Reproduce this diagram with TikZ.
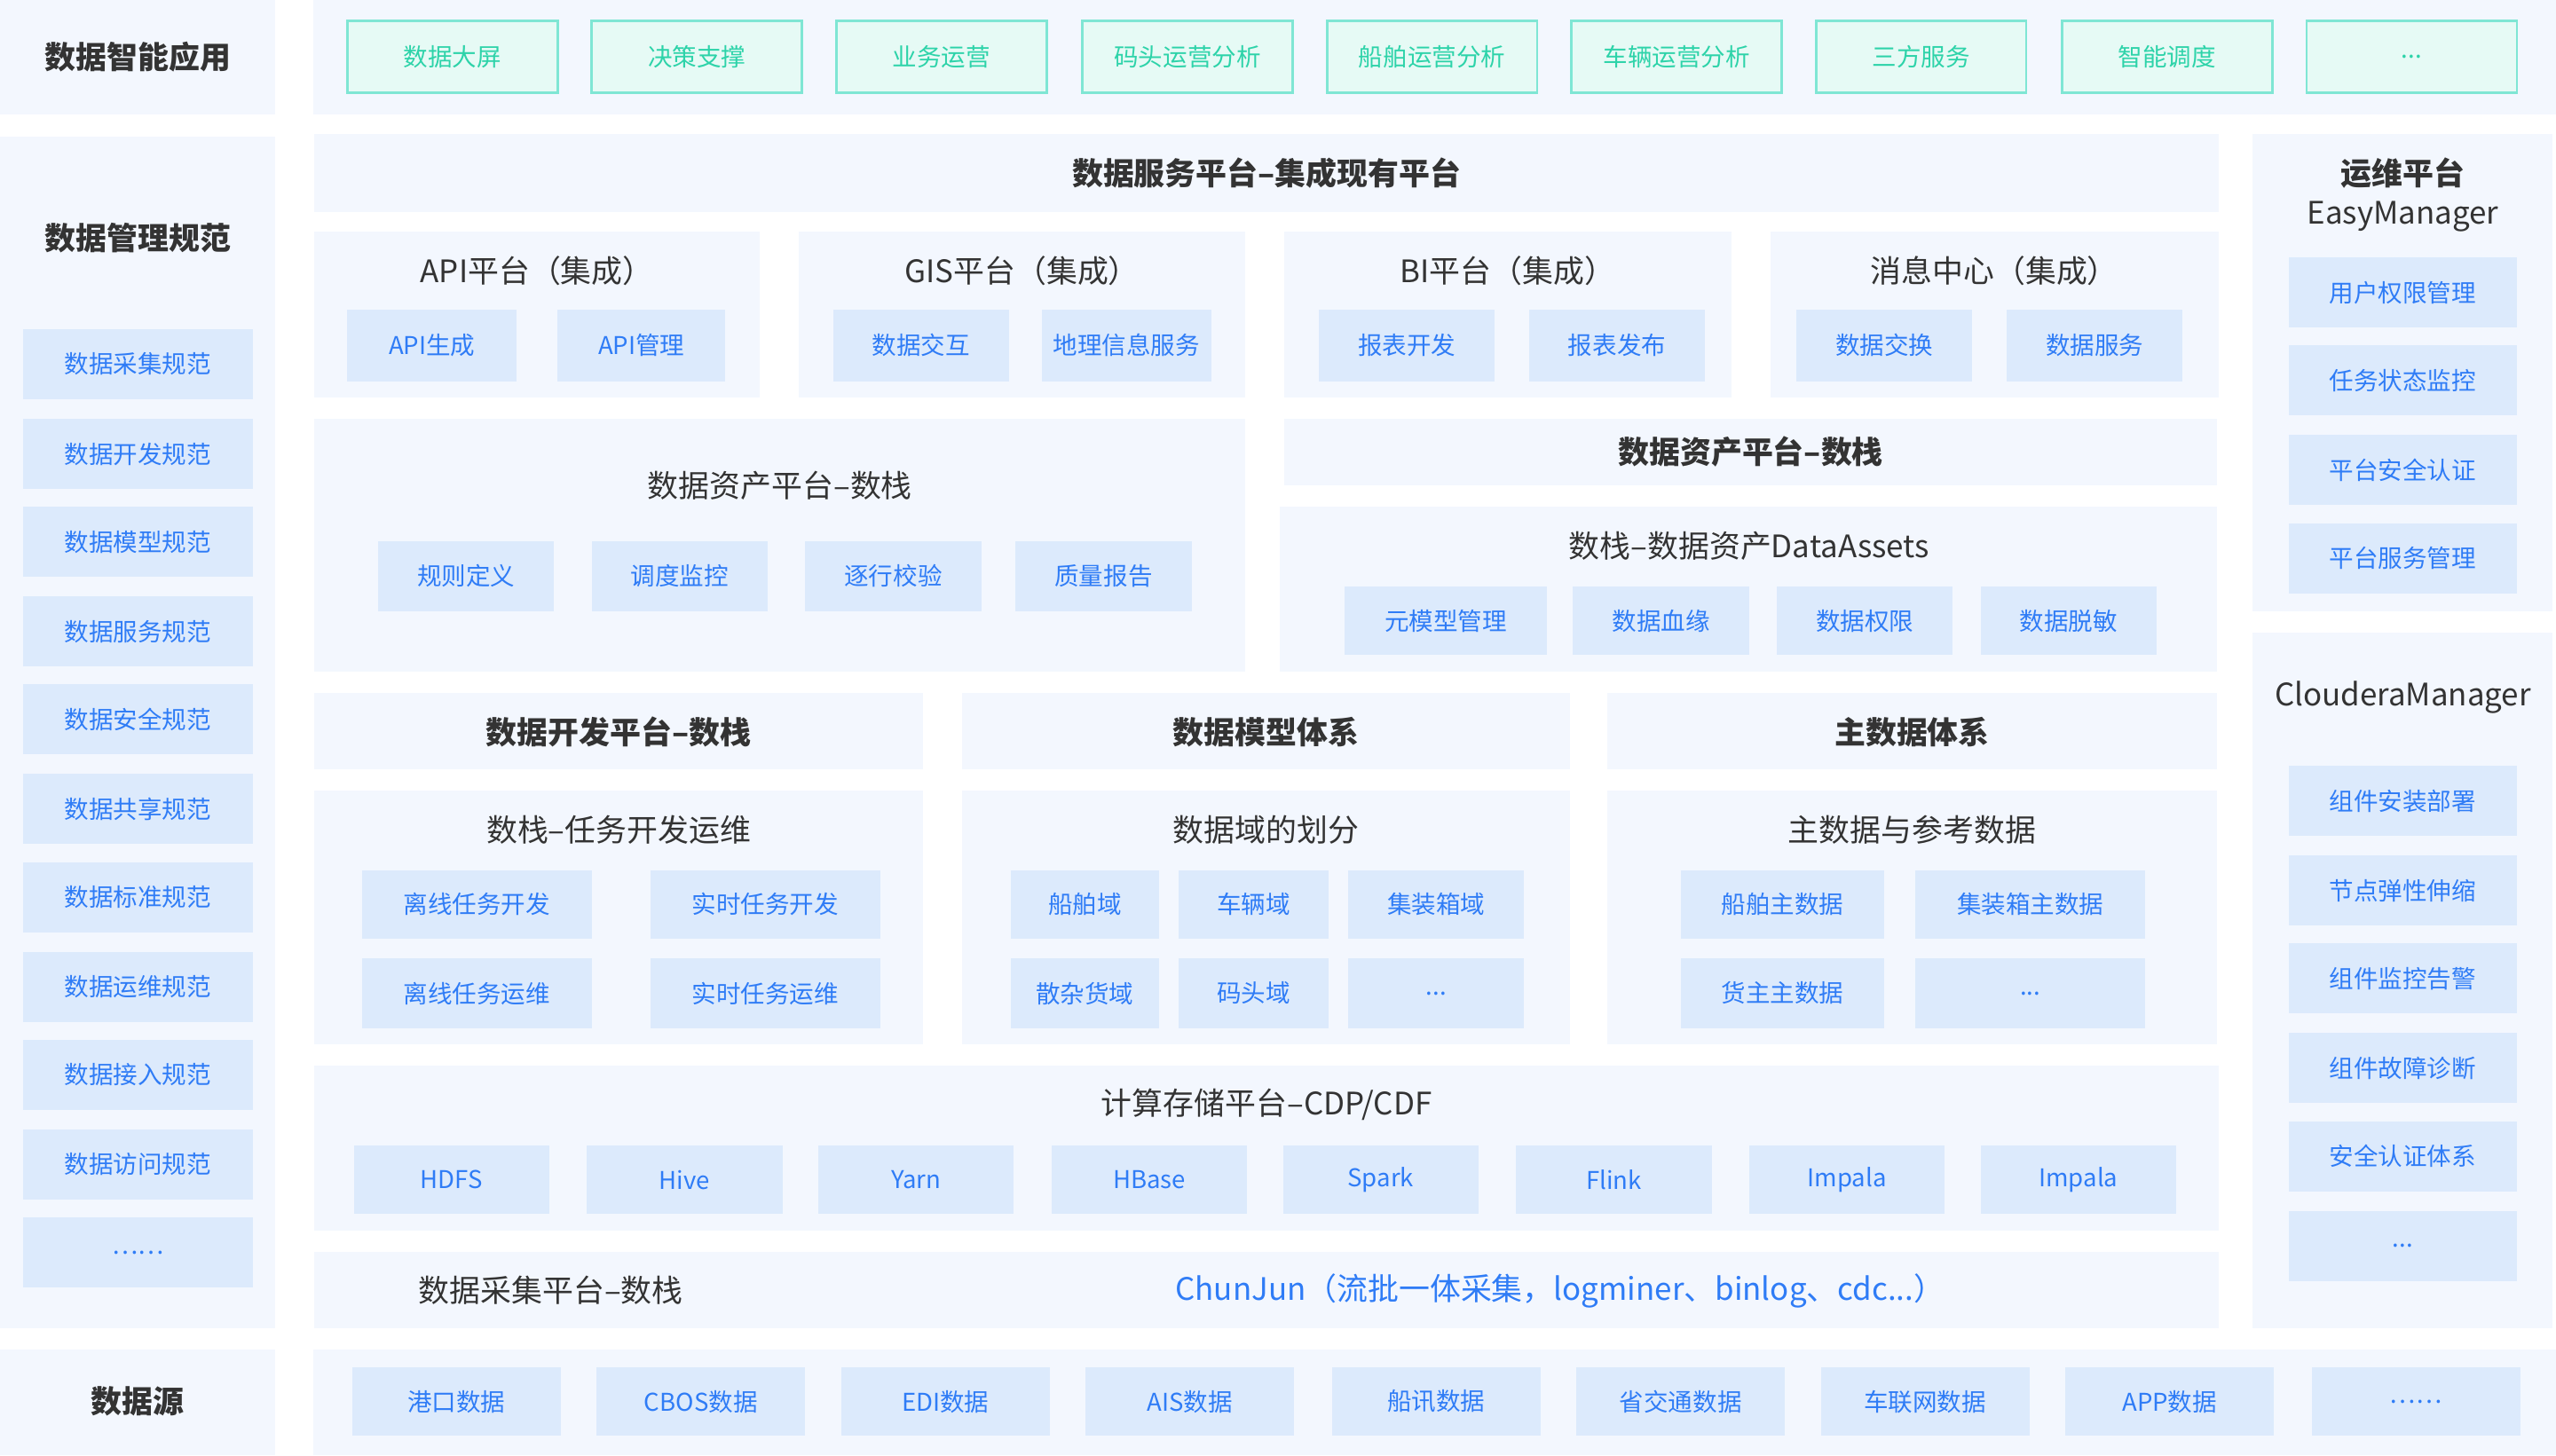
\documentclass[tikz,border=0pt]{standalone}
\usepackage{fontspec}
\setmainfont{Noto Sans CJK SC}
\definecolor{pbg}{HTML}{F3F7FE}
\definecolor{ibg}{HTML}{DCEAFC}
\definecolor{itx}{HTML}{2F7CF6}
\definecolor{gbg}{HTML}{E6FAF5}
\definecolor{gbd}{HTML}{7FE6D4}
\definecolor{gtx}{HTML}{2DD3A9}
\definecolor{dtx}{HTML}{333333}
\tikzset{
 base/.style={anchor=north west,inner sep=0pt,outer sep=0pt},
 panel/.style={base,fill=pbg},
 item/.style={base,fill=ibg,text=itx,font=\fontsize{15}{15}\selectfont},
 app/.style={base,fill=gbg,draw=gbd,line width=1.5pt,text=gtx,font=\fontsize{15}{15}\selectfont},
 ttl/.style={text=dtx,font=\fontsize{19}{19}\selectfont},
 bttl/.style={text=dtx,font=\fontsize{19}{19}\selectfont\bfseries},
}
\newcommand\B[7][panel]{\node[#1,minimum width={(#5-#3)*1pt},minimum height={(#6-#4)*1pt}] (#2) at (#3,#4) {#7};}
\newcommand\dd{...}
\begin{document}
\begin{tikzpicture}[x=1pt,y=-1pt]
\useasboundingbox (0,0) rectangle (1568,893);
% left column
\B{lapp}{0}{0}{169}{70}{}
\node[bttl] (tapp) at (84.5,35) {数据智能应用};
\B{lmgt}{0}{84}{169}{815}{}
\node[bttl] (tmgt) at (84.5,146) {数据管理规范};
\foreach \y/\t [count=\i] in {202/数据采集规范,257/数据开发规范,311/数据模型规范,366/数据服务规范,420/数据安全规范,475/数据共享规范,529/数据标准规范,584/数据运维规范,638/数据接入规范,693/数据访问规范,747/……}
  {\B[item]{lm\i}{14}{\y}{155}{\y+43}{\t}}
\B{lsrc}{0}{828}{169}{893}{}
\node[bttl] (tsrc) at (84.5,860) {数据源};
% apps
\B{appbar}{192}{0}{1568}{70}{}
\foreach \x/\t [count=\i] in {213/数据大屏,363/决策支撑,513/业务运营,664/码头运营分析,814/船舶运营分析,964/车辆运营分析,1114/三方服务,1265/智能调度,1415/\dd}
  {\B[app]{ap\i}{\x}{13}{\x+129}{57}{\t}}
% service platform
\B{svc}{193}{82}{1361}{130}{}
\node[bttl] (tsvc) at (777,106) {数据服务平台–集成现有平台};
\B{p1}{193}{142}{466}{244}{}\node[ttl] at (329.5,166) {API平台（集成）};
\B{p2}{490}{142}{764}{244}{}\node[ttl] at (627,166) {GIS平台（集成）};
\B{p3}{788}{142}{1062}{244}{}\node[ttl] at (925,166) {BI平台（集成）};
\B{p4}{1086}{142}{1361}{244}{}\node[ttl] at (1223.5,166) {消息中心（集成）};
\foreach \a/\b/\t [count=\i] in {213/317/API生成,342/445/API管理,511/619/数据交互,639/743/地理信息服务,809/917/报表开发,938/1046/报表发布,1102/1210/数据交换,1231/1339/数据服务}
  {\B[item]{s\i}{\a}{190}{\b}{234}{\t}}
% asset platforms
\B{as1}{193}{257}{764}{412}{}\node[ttl] at (478.5,298) {数据资产平台–数栈};
\foreach \a/\t [count=\i] in {232/规则定义,363/调度监控,494/逐行校验,623/质量报告}
  {\B[item]{q\i}{\a}{332}{\a+108}{375}{\t}}
\B{as2h}{788}{257}{1360}{298}{}\node[bttl] at (1074,277) {数据资产平台–数栈};
\B{as2}{785}{311}{1360}{412}{}\node[ttl] at (1073,335) {数栈–数据资产DataAssets};
\foreach \a/\b/\t [count=\i] in {825/949/元模型管理,965/1073/数据血缘,1090/1198/数据权限,1215/1323/数据脱敏}
  {\B[item]{d\i}{\a}{360}{\b}{402}{\t}}
% three systems
\B{h1}{193}{425}{566}{472}{}\node[bttl] at (379.5,449) {数据开发平台–数栈};
\B{h2}{590}{425}{963}{472}{}\node[bttl] at (776.5,449) {数据模型体系};
\B{h3}{986}{425}{1360}{472}{}\node[bttl] at (1173,449) {主数据体系};
\B{b1}{193}{485}{566}{641}{}\node[ttl] at (379.5,509) {数栈–任务开发运维};
\B{b2}{590}{485}{963}{641}{}\node[ttl] at (776.5,509) {数据域的划分};
\B{b3}{986}{485}{1360}{641}{}\node[ttl] at (1173,509) {主数据与参考数据};
\B[item]{t1}{222}{534}{363}{576}{离线任务开发}
\B[item]{t2}{399}{534}{540}{576}{实时任务开发}
\B[item]{t3}{222}{588}{363}{631}{离线任务运维}
\B[item]{t4}{399}{588}{540}{631}{实时任务运维}
\B[item]{m1}{620}{534}{711}{576}{船舶域}
\B[item]{m2}{723}{534}{815}{576}{车辆域}
\B[item]{m3}{827}{534}{935}{576}{集装箱域}
\B[item]{m4}{620}{588}{711}{631}{散杂货域}
\B[item]{m5}{723}{588}{815}{631}{码头域}
\B[item]{m6}{827}{588}{935}{631}{...}
\B[item]{r1}{1031}{534}{1156}{576}{船舶主数据}
\B[item]{r2}{1175}{534}{1316}{576}{集装箱主数据}
\B[item]{r3}{1031}{588}{1156}{631}{货主主数据}
\B[item]{r4}{1175}{588}{1316}{631}{...}
% compute
\B{cmp}{193}{654}{1361}{755}{}\node[ttl] at (777,678) {计算存储平台–CDP/CDF};
\foreach \a/\t [count=\i] in {217/HDFS,360/Hive,502/Yarn,645/HBase,787/Spark,930/Flink,1073/Impala,1215/Impala}
  {\B[item]{c\i}{\a}{703}{\a+120}{745}{\t}}
% collect
\B{col}{193}{768}{1361}{815}{}
\node[ttl] at (338,792) {数据采集平台–数栈};
\node[text=itx,font=\fontsize{19}{19}\selectfont] at (957,792) {ChunJun（流批一体采集，logminer、binlog、cdc...）};
% sources
\B{src}{192}{828}{1568}{893}{}
\foreach \x/\t [count=\i] in {216/港口数据,366/CBOS数据,516/EDI数据,666/AIS数据,817/船讯数据,967/省交通数据,1117/车联网数据,1267/APP数据,1418/……}
  {\B[item]{ds\i}{\x}{839}{\x+128}{881}{\t}}
% right column
\B{ops}{1382}{82}{1566}{375}{}
\node[bttl] at (1474,106) {运维平台};
\node[ttl] at (1474,133) {EasyManager};
\foreach \y/\t [count=\i] in {158/用户权限管理,212/任务状态监控,267/平台安全认证,321/平台服务管理}
  {\B[item]{o\i}{1404}{\y}{1544}{\y+43}{\t}}
\B{clo}{1382}{388}{1566}{815}{}
\node[ttl] at (1474,428) {ClouderaManager};
\foreach \y/\t [count=\i] in {470/组件安装部署,525/节点弹性伸缩,579/组件监控告警,634/组件故障诊断,688/安全认证体系,743/\dd}
  {\B[item]{cm\i}{1404}{\y}{1544}{\y+43}{\t}}
\end{tikzpicture}
\end{document}
